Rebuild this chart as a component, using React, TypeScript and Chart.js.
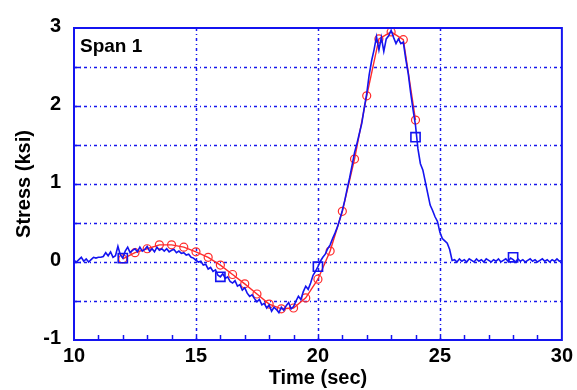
import React, { useEffect, useRef } from "react";
import { Chart, registerables } from "chart.js";

Chart.register(...registerables);

// ---- Data ----
const MEASURED_TIME = [
  10.0, 10.1, 10.2, 10.3, 10.4, 10.5, 10.6, 10.7, 10.8, 10.9,
  11.0, 11.1, 11.2, 11.3, 11.4, 11.5, 11.6, 11.7, 11.8, 11.9,
  12.0, 12.1, 12.2, 12.3, 12.4, 12.5, 12.6, 12.7, 12.8, 12.9,
  13.0, 13.1, 13.2, 13.3, 13.4, 13.5, 13.6, 13.7, 13.8, 13.9,
  14.0, 14.1, 14.2, 14.3, 14.4, 14.5, 14.6, 14.7, 14.8, 14.9,
  15.0, 15.1, 15.2, 15.3, 15.4, 15.5, 15.6, 15.7, 15.8, 15.9,
  16.0, 16.1, 16.2, 16.3, 16.4, 16.5, 16.6, 16.7, 16.8, 16.9,
  17.0, 17.1, 17.2, 17.3, 17.4, 17.5, 17.6, 17.7, 17.8, 17.9,
  18.0, 18.1, 18.2, 18.3, 18.4, 18.5, 18.6, 18.7, 18.8, 18.9,
  19.0, 19.1, 19.2, 19.3, 19.4, 19.5, 19.6, 19.7, 19.8, 19.9,
  20.0, 20.1, 20.2, 20.3, 20.4, 20.5, 20.6, 20.7, 20.8, 20.9,
  21.0, 21.1, 21.2, 21.3, 21.4, 21.5, 21.6, 21.7, 21.8, 21.9,
  22.0, 22.1, 22.2, 22.3, 22.4, 22.5, 22.6, 22.7, 22.8, 22.9,
  23.0, 23.1, 23.2, 23.3, 23.4, 23.5, 23.6, 23.7, 23.8, 23.9,
  24.0, 24.1, 24.2, 24.3, 24.4, 24.5, 24.6, 24.7, 24.8, 24.9,
  25.0, 25.1, 25.2, 25.3, 25.4, 25.5, 25.6, 25.7, 25.8, 25.9,
  26.0, 26.1, 26.2, 26.3, 26.4, 26.5, 26.6, 26.7, 26.8, 26.9,
  27.0, 27.1, 27.2, 27.3, 27.4, 27.5, 27.6, 27.7, 27.8, 27.9,
  28.0, 28.1, 28.2, 28.3, 28.4, 28.5, 28.6, 28.7, 28.8, 28.9,
  29.0, 29.1, 29.2, 29.3, 29.4, 29.5, 29.6, 29.7, 29.8, 29.9,
  30.0,
];

const MEASURED_STRESS = [
  0.02, 0.00, 0.03, 0.06, 0.01, 0.04, 0.00, 0.03, 0.06, 0.05,
  0.06, 0.06, 0.07, 0.12, 0.08, 0.13, 0.06, 0.08, 0.20, 0.09,
  0.05, 0.14, 0.19, 0.12, 0.15, 0.17, 0.13, 0.19, 0.14, 0.16,
  0.20, 0.14, 0.17, 0.13, 0.19, 0.15, 0.17, 0.14, 0.17, 0.13,
  0.15, 0.16, 0.12, 0.14, 0.11, 0.12, 0.09, 0.10, 0.06, 0.05,
  0.02, 0.00, 0.01, -0.04, -0.03, -0.09, -0.07, -0.12, -0.10, -0.17,
  -0.19, -0.15, -0.21, -0.19, -0.25, -0.27, -0.24, -0.31, -0.29, -0.36,
  -0.33, -0.40, -0.44, -0.42, -0.47, -0.51, -0.48, -0.55, -0.53, -0.59,
  -0.55, -0.63, -0.58, -0.61, -0.65, -0.58, -0.62, -0.56, -0.52, -0.60,
  -0.57, -0.50, -0.44, -0.48, -0.38, -0.31, -0.35, -0.27, -0.17, -0.12,
  -0.06, 0.01, 0.06, 0.10, 0.17, 0.22, 0.30, 0.37, 0.45, 0.55,
  0.66, 0.79, 0.94, 1.08, 1.24, 1.40, 1.52, 1.65, 1.78, 1.98,
  2.16, 2.40, 2.58, 2.72, 2.89, 2.72, 2.88, 2.70, 2.86, 2.90,
  2.97, 2.88, 2.80, 2.86, 2.80, 2.82, 2.60, 2.42, 2.17, 1.95,
  1.75, 1.45, 1.26, 1.18, 1.03, 0.88, 0.73, 0.66, 0.58, 0.52,
  0.38, 0.30, 0.27, 0.24, 0.16, 0.02, 0.03, 0.00, 0.04, 0.01,
  0.03, 0.00, 0.04, 0.02, 0.00, 0.04, 0.01, 0.03, 0.00, 0.04,
  0.02, 0.00, 0.03, 0.01, 0.04, 0.00, 0.02, 0.04, 0.01, 0.05,
  0.03, 0.00, 0.04, 0.01, 0.03, 0.00, 0.02, 0.04, 0.01, 0.03,
  0.00, 0.02, 0.04, 0.01, 0.03, 0.00, 0.03, 0.01, 0.04, 0.01,
  0.02,
];

const MARKER_TIME = [12, 16, 20, 24, 28];
const MARKER_STRESS = [0.05, -0.19, -0.06, 1.6, 0.06];

const MODEL_TIME = [
  12.0, 12.5, 13.0, 13.5, 14.0, 14.5, 15.0, 15.5, 16.0, 16.5,
  17.0, 17.5, 18.0, 18.5, 19.0, 19.5, 20.0, 20.5, 21.0, 21.5,
  22.0, 22.5, 23.0, 23.5, 24.0,
];
const MODEL_STRESS = [
  0.04, 0.12, 0.17, 0.22, 0.22, 0.19, 0.13, 0.06, -0.04, -0.16,
  -0.28, -0.41, -0.54, -0.60, -0.59, -0.46, -0.22, 0.14, 0.65, 1.32,
  2.13, 2.86, 2.95, 2.85, 1.82,
];

const X_GRID = [15, 20, 25];
const X_MINOR = [11, 12, 13, 14, 15, 16, 17, 18, 19, 20, 21, 22, 23, 24, 25, 26, 27, 28, 29];
const Y_GRID = [-0.5, 0, 0.5, 1, 1.5, 2, 2.5];
const X_LABELS = [10, 15, 20, 25, 30];
const PANEL_LABEL = "Span 1";
const X_TITLE = "Time (sec)";
const Y_TITLE = "Stress (ksi)";

const FONT = "Arial, 'Liberation Sans', Helvetica, sans-serif";
const BLUE = "#1414f0";
const RED = "#ff2b2b";

const framePlugin = {
  id: "framePlugin",
  beforeDatasetsDraw(chart: any) {
    const { ctx, chartArea } = chart;
    const xs = chart.scales.x;
    const ys = chart.scales.y;
    ctx.save();
    ctx.strokeStyle = "rgba(10,10,235,0.95)";
    ctx.lineWidth = 1.5;
    ctx.setLineDash([3, 3, 1, 3]);
    for (const v of Y_GRID) {
      const y = Math.round(ys.getPixelForValue(v)) + 0.5;
      ctx.beginPath();
      ctx.moveTo(chartArea.left, y);
      ctx.lineTo(chartArea.right, y);
      ctx.stroke();
    }
    for (const v of X_GRID) {
      const x = Math.round(xs.getPixelForValue(v)) + 0.5;
      ctx.beginPath();
      ctx.moveTo(x, chartArea.top);
      ctx.lineTo(x, chartArea.bottom);
      ctx.stroke();
    }
    ctx.setLineDash([]);
    ctx.strokeStyle = BLUE;
    ctx.lineWidth = 1.5;
    for (const v of Y_GRID) {
      const y = Math.round(ys.getPixelForValue(v)) + 0.5;
      ctx.beginPath();
      ctx.moveTo(chartArea.left, y);
      ctx.lineTo(chartArea.left + 7, y);
      ctx.stroke();
    }
    for (const v of X_MINOR) {
      const x = Math.round(xs.getPixelForValue(v)) + 0.5;
      ctx.beginPath();
      ctx.moveTo(x, chartArea.bottom);
      ctx.lineTo(x, chartArea.bottom - 5);
      ctx.stroke();
    }
    ctx.restore();
  },
  afterDatasetsDraw(chart: any) {
    const { ctx, chartArea } = chart;
    ctx.save();
    ctx.strokeStyle = BLUE;
    ctx.lineWidth = 2;
    ctx.strokeRect(chartArea.left, chartArea.top, chartArea.right - chartArea.left, chartArea.bottom - chartArea.top);
    ctx.fillStyle = "#000";
    ctx.font = `bold 19px ${FONT}`;
    ctx.textBaseline = "alphabetic";
    ctx.textAlign = "left";
    ctx.fillText(PANEL_LABEL, chartArea.left + 6, chartArea.top + 24);
    ctx.restore();
  },
};

export default function App() {
  const canvasRef = useRef<HTMLCanvasElement | null>(null);

  useEffect(() => {
    if (!canvasRef.current) return;
    const measured = MEASURED_TIME.map((t, i) => ({ x: t, y: MEASURED_STRESS[i] }));
    const model = MODEL_TIME.map((t, i) => ({ x: t, y: MODEL_STRESS[i] }));
    const markers = MARKER_TIME.map((t, i) => ({ x: t, y: MARKER_STRESS[i] }));

    const chart = new Chart(canvasRef.current, {
      type: "line",
      data: {
        datasets: [
          {
            label: "Model",
            data: model,
            borderColor: RED,
            borderWidth: 1.4,
            pointStyle: "circle",
            pointRadius: 4,
            pointBorderColor: RED,
            pointBorderWidth: 1.2,
            pointBackgroundColor: "rgba(0,0,0,0)",
            tension: 0,
            order: 3,
          },
          {
            label: "Measured",
            data: measured,
            borderColor: BLUE,
            borderWidth: 1.6,
            pointRadius: 0,
            tension: 0,
            order: 2,
          },
          {
            label: "Markers",
            data: markers,
            showLine: false,
            pointStyle: "rect",
            pointRadius: 6.5,
            pointBorderColor: BLUE,
            pointBorderWidth: 1.6,
            pointBackgroundColor: "rgba(0,0,0,0)",
            order: 1,
          },
        ],
      },
      options: {
        animation: false,
        responsive: false,
        events: [],
        layout: { padding: { top: 28, right: 13, left: 0, bottom: 0 } },
        plugins: { legend: { display: false }, tooltip: { enabled: false } },
        scales: {
          x: {
            type: "linear",
            min: 10,
            max: 30,
            afterBuildTicks: (scale: any) => {
              scale.ticks = X_LABELS.map((v) => ({ value: v }));
            },
            afterFit: (scale: any) => {
              scale.height = 50;
            },
            grid: { display: false, drawTicks: false },
            border: { display: false },
            ticks: {
              color: "#000",
              font: { family: FONT, size: 20, weight: "bold" },
              padding: 4,
              maxRotation: 0,
              autoSkip: false,
            },
            title: {
              display: true,
              text: X_TITLE,
              color: "#000",
              font: { family: FONT, size: 20, weight: "bold" },
              padding: { top: 0, bottom: 0 },
            },
          },
          y: {
            type: "linear",
            min: -1,
            max: 3,
            afterBuildTicks: (scale: any) => {
              scale.ticks = [-1, 0, 1, 2, 3].map((v) => ({ value: v }));
            },
            afterFit: (scale: any) => {
              scale.width = 74;
            },
            grid: { display: false, drawTicks: false },
            border: { display: false },
            ticks: {
              color: "#000",
              font: { family: FONT, size: 20, weight: "bold" },
              padding: 13,
              labelOffset: -2,
            },
            title: {
              display: true,
              text: Y_TITLE,
              color: "#000",
              font: { family: FONT, size: 20, weight: "bold" },
              padding: { top: 12, bottom: 0 },
            },
          },
        },
      },
      plugins: [framePlugin],
    });
    return () => chart.destroy();
  }, []);

  return (
    <div style={{ position: "absolute", left: 0, top: 0, width: 577, height: 390, background: "#fff" }}>
      <canvas ref={canvasRef} width={577} height={390} style={{ display: "block" }} />
    </div>
  );
}
